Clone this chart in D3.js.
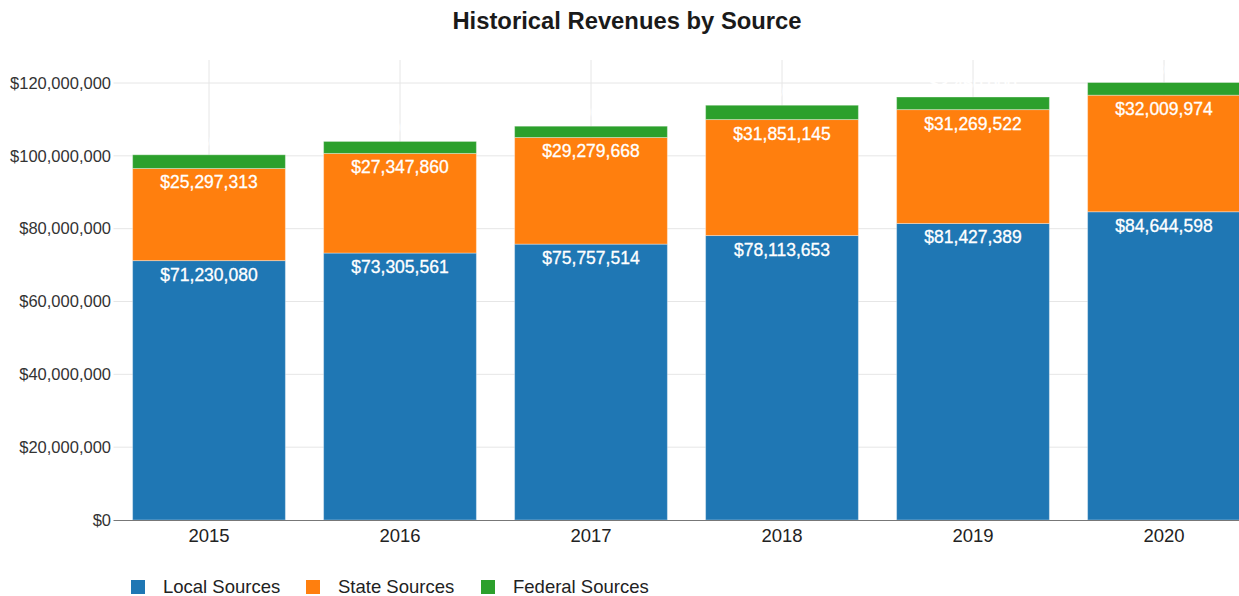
<!DOCTYPE html>
<html>
<head>
<meta charset="utf-8">
<script src="https://cdn.jsdelivr.net/npm/d3@7"></script>
<style>
  body { margin: 0; background: #fff; }
  svg { font-family: "Liberation Sans", Arial, sans-serif; display: block; }
</style>
</head>
<body>
<svg id="chart" width="1239" height="596"></svg>
<script>
// chart data
const years = ["2015", "2016", "2017", "2018", "2019", "2020"];
const localSources = [71230080, 73305561, 75757514, 78113653, 81427389, 84644598];
const stateSources = [25297313, 27347860, 29279668, 31851145, 31269522, 32009974];
// federal values
const federalSources = [3760000, 3300000, 3100000, 3930000, 3460000, 3480000];
const seriesNames = ["Local Sources", "State Sources", "Federal Sources"];
const yTicks = [0, 20000000, 40000000, 60000000, 80000000, 100000000, 120000000];

const colors = ["#1f77b4", "#ff7f0e", "#2ca02c"];

const svg = d3.select("#chart");
const plotTop = 60, plotBottom = 520, plotLeft = 113.5;

const rows = years.map((y, i) => ({
  year: y,
  "Local Sources": localSources[i],
  "State Sources": stateSources[i],
  "Federal Sources": federalSources[i]
}));
const stacked = d3.stack().keys(seriesNames)(rows);

const x = d3.scaleBand()
  .domain(years)
  .range([plotLeft, plotLeft + 191 * 6])
  .paddingInner(0.2)
  .paddingOuter(0.1);

const y = d3.scaleLinear().domain([0, 120000000]).range([plotBottom, 83]);

const money = d => "$" + d3.format(",")(d);

// title
svg.append("text")
  .attr("x", 627).attr("y", 29)
  .attr("text-anchor", "middle")
  .style("font-size", "23.8px").style("font-weight", "bold").style("fill", "#1a1a1a")
  .text("Historical Revenues by Source");

// grid
const grid = svg.append("g");
grid.selectAll(".hg").data(yTicks.slice(1)).join("line")
  .attr("x1", plotLeft).attr("x2", 1239)
  .attr("y1", d => y(d)).attr("y2", d => y(d))
  .attr("stroke", "#e6e6e6").attr("stroke-width", 1);
grid.selectAll(".vg").data(years).join("line")
  .attr("x1", d => x(d) + x.bandwidth() / 2).attr("x2", d => x(d) + x.bandwidth() / 2)
  .attr("y1", plotTop).attr("y2", plotBottom)
  .attr("stroke", "#e6e6e6").attr("stroke-width", 1);

// y axis labels
svg.append("g").selectAll("text").data(yTicks).join("text")
  .attr("x", 111).attr("y", d => y(d))
  .attr("dy", "0.35em")
  .attr("text-anchor", "end")
  .style("font-size", "16.5px").style("fill", "#333")
  .text(d => money(d));

// bars
const layers = svg.append("g").selectAll("g").data(stacked).join("g")
  .attr("fill", (d, i) => colors[i]);
layers.selectAll("rect").data(d => d).join("rect")
  .attr("x", d => x(d.data.year))
  .attr("width", x.bandwidth())
  .attr("y", d => y(d[1]))
  .attr("height", d => y(d[0]) - y(d[1]))
  .attr("stroke", "#fff").attr("stroke-opacity", 0.35).attr("stroke-width", 1);

// x axis line
svg.append("line")
  .attr("x1", plotLeft).attr("x2", 1239)
  .attr("y1", plotBottom + 0.5).attr("y2", plotBottom + 0.5)
  .attr("stroke", "#777").attr("stroke-width", 1);

// value labels (federal ones sit above the bar in white, like the source)
const labels = svg.append("g");
stacked.forEach((layer, li) => {
  labels.selectAll(".l" + li).data(layer).join("text")
    .attr("class", "l" + li)
    .attr("x", d => x(d.data.year) + x.bandwidth() / 2)
    .attr("y", d => li === 2 ? y(d[1]) - 7 : y(d[1]) + 20)
    .attr("text-anchor", "middle")
    .style("font-size", "17.5px").style("fill", "#fff")
    .style("stroke", "#fff").style("stroke-width", 0.3)
    .text(d => money(d[1] - d[0]));
});

// x axis labels
svg.append("g").selectAll("text").data(years).join("text")
  .attr("x", d => x(d) + x.bandwidth() / 2)
  .attr("y", 542)
  .attr("text-anchor", "middle")
  .style("font-size", "18.5px").style("fill", "#222")
  .text(d => d);

// legend
const legendX = [131, 306, 481];
const legend = svg.append("g").selectAll("g").data(seriesNames).join("g")
  .attr("transform", (d, i) => `translate(${legendX[i]},580)`);
legend.append("rect").attr("width", 14).attr("height", 14)
  .attr("fill", (d, i) => colors[i]);
legend.append("text")
  .attr("x", 32).attr("y", 13)
  .style("font-size", "18.5px").style("fill", "#222")
  .text(d => d);
</script>
</body>
</html>
